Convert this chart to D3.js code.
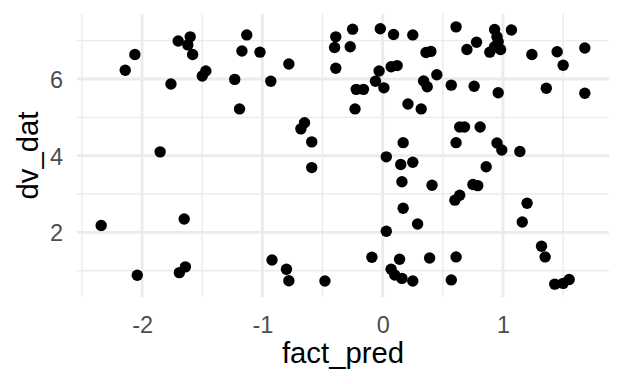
<!DOCTYPE html>
<html>
<head>
<meta charset="utf-8">
<script src="https://cdn.jsdelivr.net/npm/d3@7"></script>
<style>
  body { margin: 0; background: #fff; }
  text { font-family: "Liberation Sans", Arial, sans-serif; }
</style>
</head>
<body>
<div id="scatter-container"></div>
<script>
// datos
const factPred = [
  -2.14, -2.06, -1.76, -1.70, -1.60, -1.62, -1.58, -1.47, -1.50, -1.23,
  -1.17, -1.13, -1.19, -1.02, -0.78, -0.93, -0.65, -0.68, -0.59, -0.59,
  -1.85, -2.34, -1.65, -2.04, -1.64, -1.69,
  -0.39, -0.25, -0.40, -0.27, -0.39, -0.02, 0.09, 0.25, 0.36, 0.40,
  -0.03, 0.07, 0.12, -0.06, 0.01, -0.22, -0.16, -0.23, 0.21, 0.32,
  0.34, 0.37, 0.45,
  0.61, 0.93, 1.07, 0.95, 0.78, 0.70, 0.96, 0.89, 0.98, 0.93,
  1.24, 1.45, 1.68, 1.50, 0.57, 0.76, 0.96, 1.36, 1.68, 0.64,
  0.68, 0.81, 0.61, 0.95, 0.99, 1.14,
  0.17, 0.03, 0.15, 0.25, 0.16, 0.41, 0.17, 0.29, 0.03, -0.92,
  -0.80, -0.78, -0.48, -0.09, 0.14, 0.39, 0.07, 0.10, 0.16, 0.25,
  0.57,
  0.86, 0.75, 0.79, 0.64, 0.60, 1.20, 1.16, 1.32, 1.35, 0.61,
  1.43, 1.50, 1.55
];
const dvDat = [
  6.23, 6.64, 5.87, 6.99, 7.10, 6.89, 6.64, 6.21, 6.08, 5.99,
  6.73, 7.15, 5.22, 6.70, 6.39, 5.94, 4.86, 4.70, 4.36, 3.69,
  4.10, 2.18, 2.35, 0.88, 1.10, 0.95,
  7.10, 7.30, 6.82, 6.84, 6.28, 7.31, 7.16, 7.15, 6.69, 6.72,
  6.21, 6.32, 6.35, 5.94, 5.77, 5.73, 5.73, 5.22, 5.35, 5.22,
  5.95, 5.80, 6.11,
  7.36, 7.29, 7.28, 7.10, 6.96, 6.77, 6.97, 6.70, 6.77, 6.84,
  6.64, 6.71, 6.81, 6.36, 5.84, 5.81, 5.64, 5.76, 5.63, 4.75,
  4.75, 4.75, 4.34, 4.33, 4.15, 4.11,
  4.34, 3.97, 3.77, 3.83, 3.32, 3.23, 2.63, 2.22, 2.03, 1.28,
  1.04, 0.74, 0.73, 1.35, 1.30, 1.33, 1.04, 0.89, 0.80, 0.73,
  0.76,
  3.71, 3.25, 3.22, 2.97, 2.84, 2.76, 2.27, 1.64, 1.36, 1.36,
  0.65, 0.67, 0.77
];
const xTicks = [-2, -1, 0, 1];
const xMinor = [-2.5, -1.5, -0.5, 0.5, 1.5];
const yTicks = [2, 4, 6];
const yMinor = [1, 3, 5, 7];

const width = 624;
const height = 384;
const margin = { top: 14, right: 15, bottom: 87, left: 77 };

const data = factPred.map((x, i) => ({ x: x, y: dvDat[i] }));

// rango con 5% de expansion como ggplot
function expand(ext) {
    const pad = (ext[1] - ext[0]) * 0.05;
    return [ext[0] - pad, ext[1] + pad];
}

const x = d3.scaleLinear()
    .domain(expand(d3.extent(factPred)))
    .range([margin.left, width - margin.right]);

const y = d3.scaleLinear()
    .domain(expand(d3.extent(dvDat)))
    .range([height - margin.bottom, margin.top]);

const svg = d3.select("#scatter-container")
    .append("svg")
    .attr("width", width)
    .attr("height", height);

// lineas de grilla menores
svg.append("g").selectAll("line")
    .data(xMinor)
    .enter().append("line")
    .attr("x1", d => x(d)).attr("x2", d => x(d))
    .attr("y1", margin.top).attr("y2", height - margin.bottom)
    .attr("stroke", "#ebebeb")
    .attr("stroke-width", 1.4);

svg.append("g").selectAll("line")
    .data(yMinor)
    .enter().append("line")
    .attr("x1", margin.left).attr("x2", width - margin.right)
    .attr("y1", d => y(d)).attr("y2", d => y(d))
    .attr("stroke", "#ebebeb")
    .attr("stroke-width", 1.4);

// lineas de grilla mayores
svg.append("g").selectAll("line")
    .data(xTicks)
    .enter().append("line")
    .attr("x1", d => x(d)).attr("x2", d => x(d))
    .attr("y1", margin.top).attr("y2", height - margin.bottom)
    .attr("stroke", "#ebebeb")
    .attr("stroke-width", 2.8);

svg.append("g").selectAll("line")
    .data(yTicks)
    .enter().append("line")
    .attr("x1", margin.left).attr("x2", width - margin.right)
    .attr("y1", d => y(d)).attr("y2", d => y(d))
    .attr("stroke", "#ebebeb")
    .attr("stroke-width", 2.8);

// ejes (solo etiquetas, sin lineas ni marcas); guion simple como en R
const xAxis = svg.append("g")
    .attr("transform", "translate(0," + (height - margin.bottom) + ")")
    .call(d3.axisBottom(x).tickValues(xTicks).tickFormat(d => String(d)).tickSize(0).tickPadding(19));

const yAxis = svg.append("g")
    .attr("transform", "translate(" + margin.left + ",0)")
    .call(d3.axisLeft(y).tickValues(yTicks).tickFormat(d => String(d)).tickSize(0).tickPadding(14));

[xAxis, yAxis].forEach(g => {
    g.select(".domain").remove();
    g.selectAll("text")
        .attr("fill", "#4d4d4d")
        .style("font-size", "23.5px")
        .style("font-family", "'Liberation Sans', Arial, sans-serif");
});
yAxis.selectAll("text").attr("dy", "0.36em");

// puntos
svg.append("g").selectAll("circle")
    .data(data)
    .enter().append("circle")
    .attr("cx", d => x(d.x))
    .attr("cy", d => y(d.y))
    .attr("r", 5.7)
    .attr("fill", "#000");

// titulos de ejes
svg.append("text")
    .attr("x", (margin.left + width - margin.right) / 2)
    .attr("y", 363)
    .attr("text-anchor", "middle")
    .style("font-size", "29.3px")
    .text("fact_pred");

svg.append("text")
    .attr("transform", "translate(37.5," + ((margin.top + height - margin.bottom) / 2) + ") rotate(-90)")
    .attr("text-anchor", "middle")
    .style("font-size", "29.3px")
    .text("dv_dat");
</script>
</body>
</html>
